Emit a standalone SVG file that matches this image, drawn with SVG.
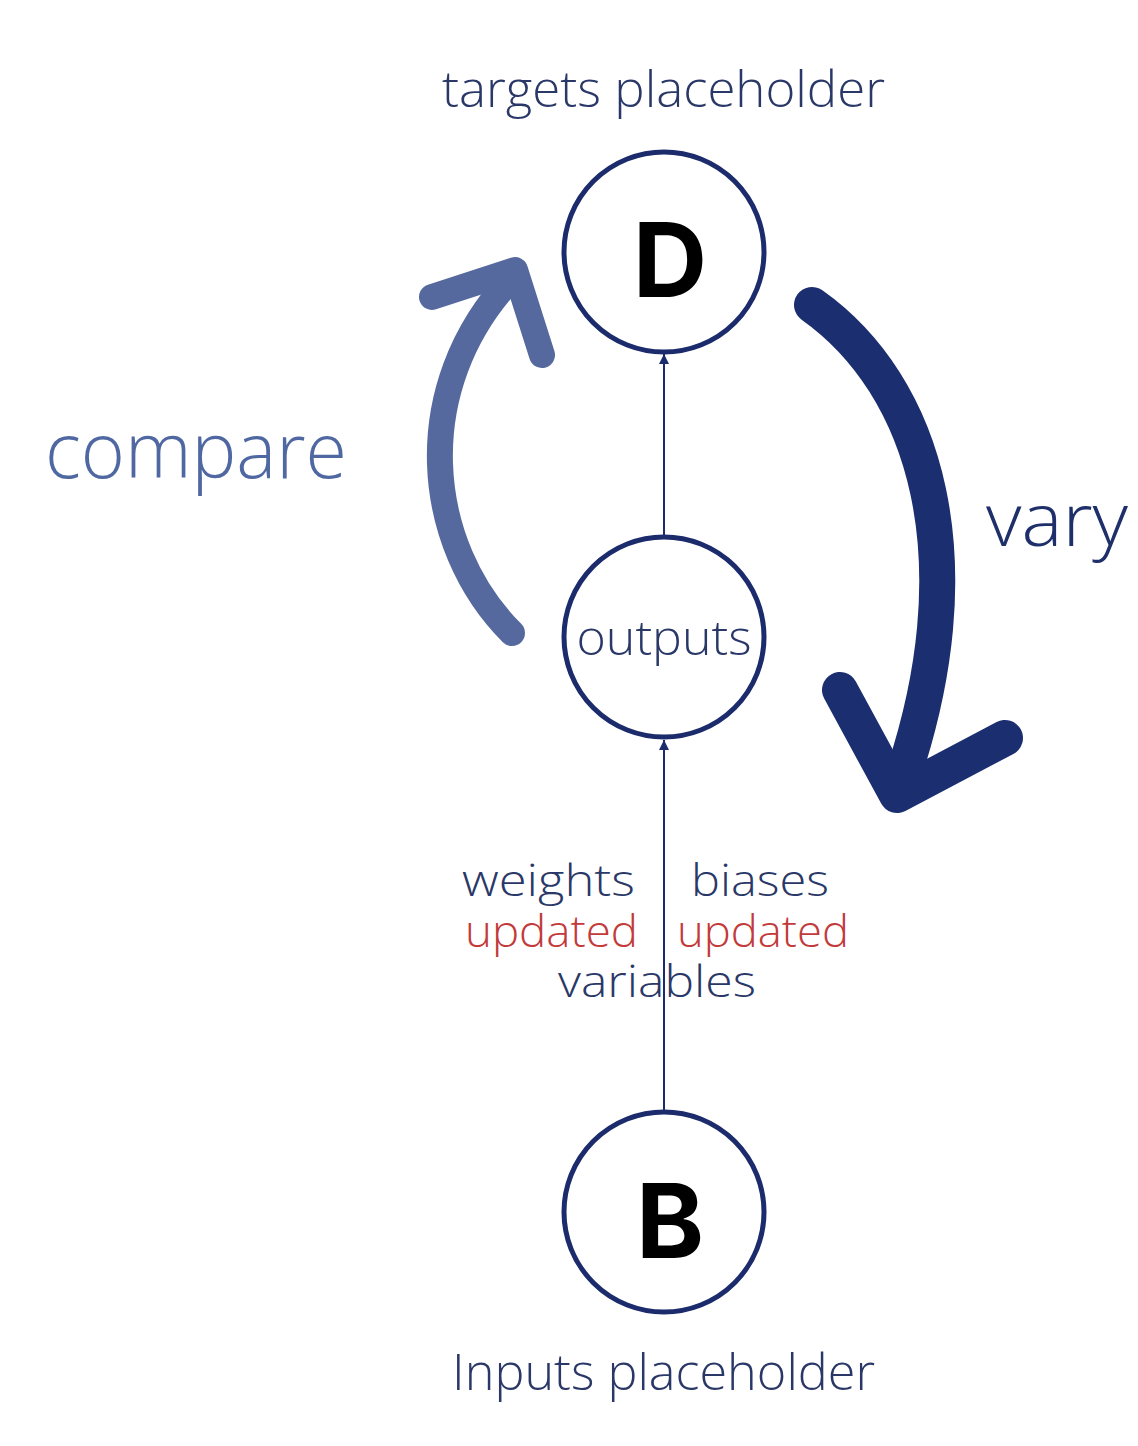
<svg xmlns="http://www.w3.org/2000/svg" width="1138" height="1446" viewBox="0 0 1138 1446">
<style>
.node{fill:#ffffff;stroke:#1b2b6c;stroke-width:5}
.lbl{font-family:"Open Sans","Liberation Sans",sans-serif;font-weight:300;fill:#2a3868}
.big{font-family:Inter,"Open Sans","Liberation Sans",sans-serif;font-weight:700;fill:#000000;font-size:103px;text-anchor:middle}
.red{fill:#c23a3a}
.edge{stroke:#1b2b6c;stroke-width:2;fill:none}
</style>
<defs>
<marker id="tri" viewBox="0 0 10 10" refX="10" refY="5" markerWidth="5" markerHeight="5" orient="auto" markerUnits="strokeWidth">
<path d="M0,0 L10,5 L0,10 z" fill="#1b2b6c"/>
</marker>
</defs>
<rect width="1138" height="1446" fill="#ffffff"/>
<g id="connectors">
<line class="edge" x1="664" y1="1110" x2="664" y2="740" marker-end="url(#tri)"/>
<line class="edge" x1="664" y1="535" x2="664" y2="354" marker-end="url(#tri)"/>
<g id="compare-arrow" fill="none" stroke="#56699f" stroke-width="26" stroke-linecap="round" stroke-linejoin="round">
<path d="M512 633 C424 545 408 388 512 278"/>
<path d="M432 297 L515 270 L542 355"/>
</g>
<g id="vary-arrow" fill="none" stroke="#1b2e70" stroke-width="36" stroke-linecap="round" stroke-linejoin="round">
<path d="M812 305 C925 385 980 560 898 790"/>
<path d="M840 690 L897 795 L1005 738"/>
</g>
</g>
<g id="node-D">
<circle class="node" cx="664" cy="252" r="100"/>
<text class="big" x="670" y="297">D</text>
</g>
<g id="node-outputs">
<circle class="node" cx="664" cy="637" r="100"/>
<text class="lbl" x="664" y="655" font-size="48" text-anchor="middle" textLength="175" lengthAdjust="spacingAndGlyphs">outputs</text>
</g>
<g id="node-B">
<circle class="node" cx="664" cy="1212" r="100"/>
<text class="big" x="670" y="1258">B</text>
</g>
<g id="labels">
<text class="lbl" x="442" y="107" font-size="50" textLength="443" lengthAdjust="spacingAndGlyphs">targets placeholder</text>
<text class="lbl" x="452" y="1390" font-size="50" textLength="423" lengthAdjust="spacingAndGlyphs">Inputs placeholder</text>
<text class="lbl" x="45" y="478" font-size="78" style="fill:#5068a2" textLength="302" lengthAdjust="spacingAndGlyphs">compare</text>
<text class="lbl" x="986" y="546" font-size="74" style="fill:#1f2f6a" textLength="142" lengthAdjust="spacingAndGlyphs">vary</text>
<text class="lbl" x="462" y="896" font-size="44" textLength="173" lengthAdjust="spacingAndGlyphs">weights</text>
<text class="lbl" x="691" y="896" font-size="44" textLength="138" lengthAdjust="spacingAndGlyphs">biases</text>
<text class="lbl red" x="465" y="947" font-size="44" textLength="173" lengthAdjust="spacingAndGlyphs">updated</text>
<text class="lbl red" x="677" y="947" font-size="44" textLength="172" lengthAdjust="spacingAndGlyphs">updated</text>
<text class="lbl" x="558" y="997" font-size="44" textLength="198" lengthAdjust="spacingAndGlyphs">variables</text>
</g>
</svg>
